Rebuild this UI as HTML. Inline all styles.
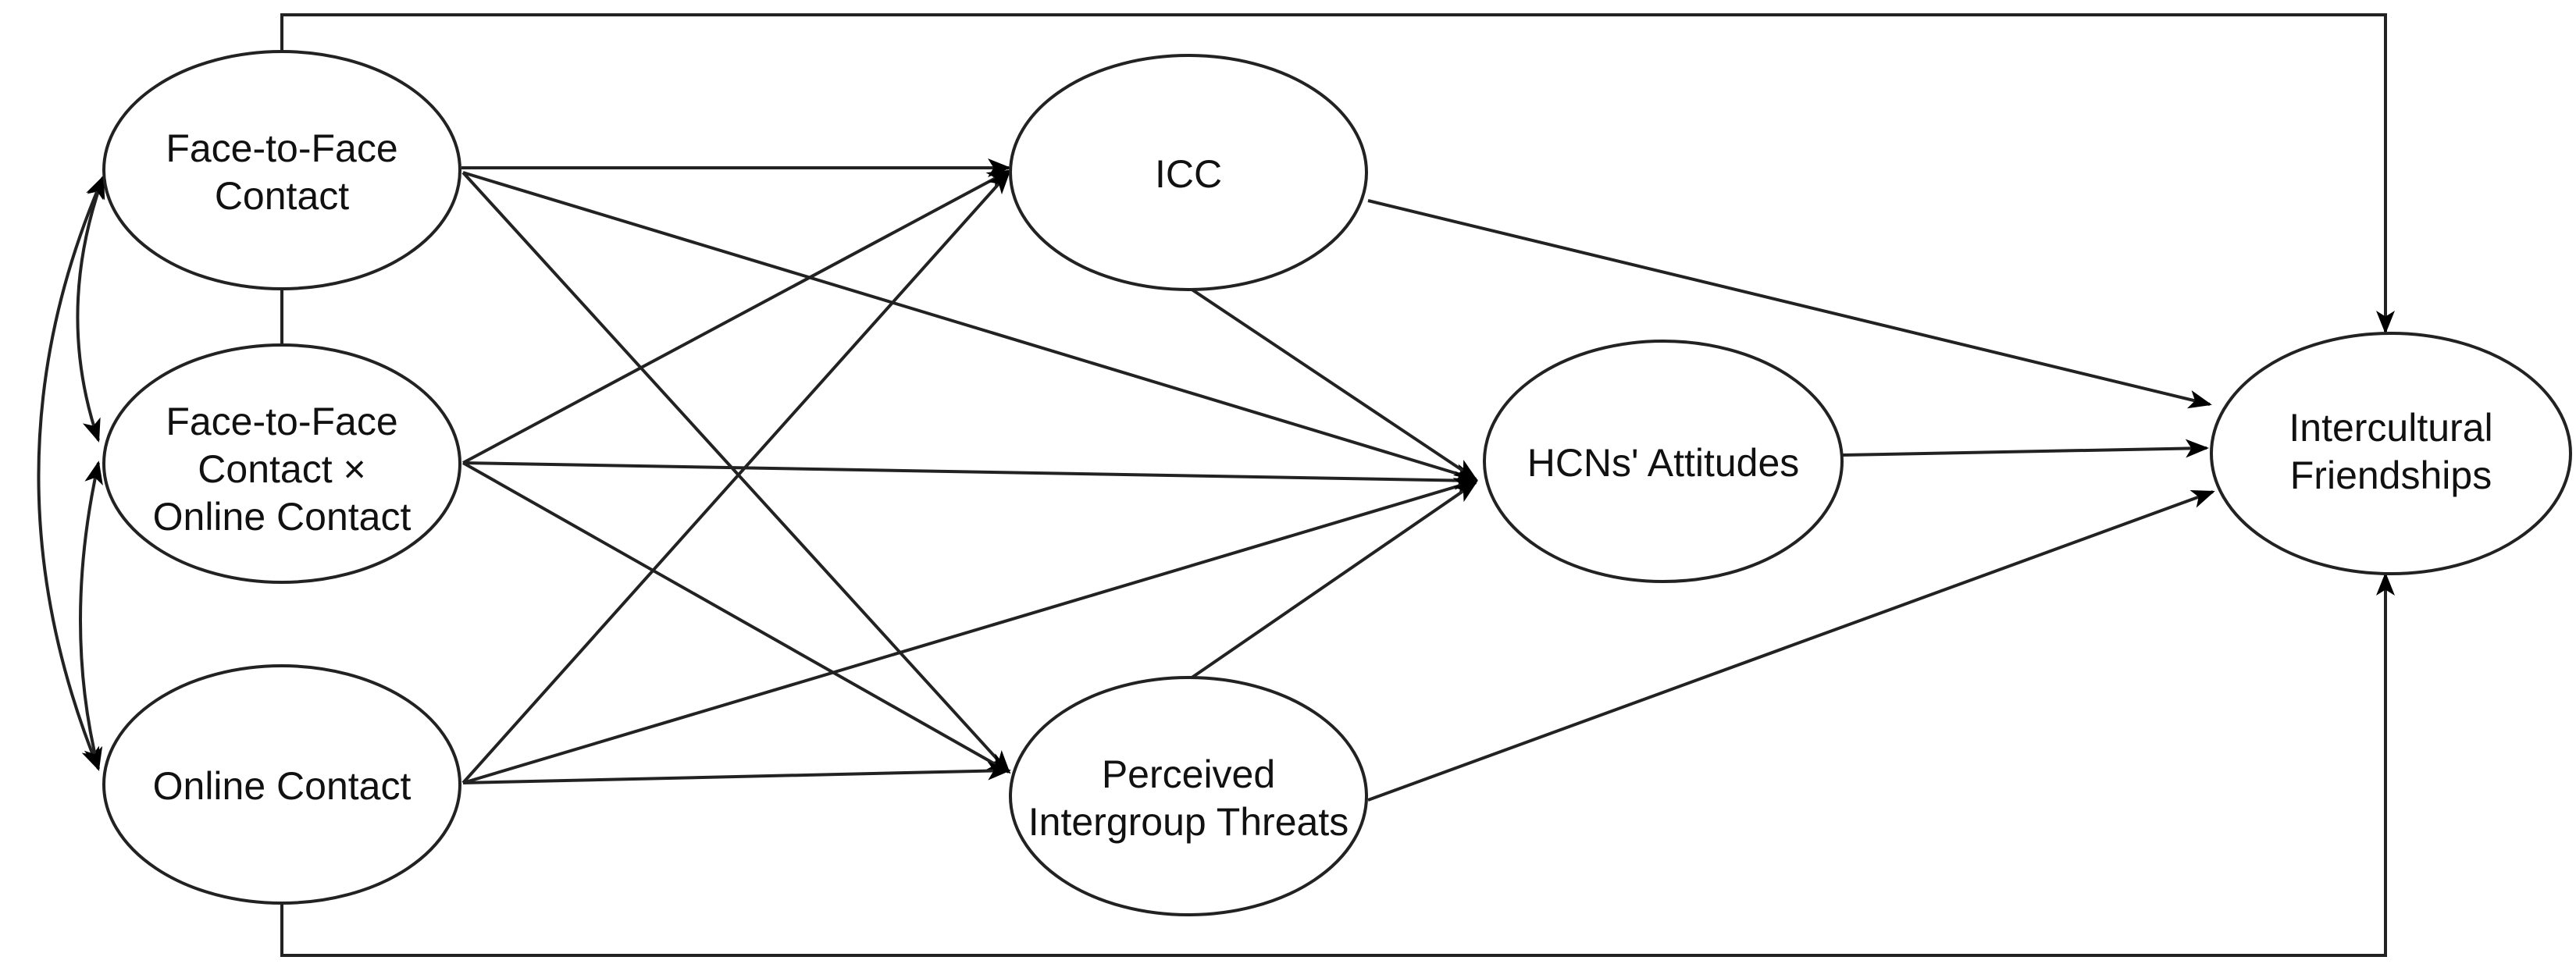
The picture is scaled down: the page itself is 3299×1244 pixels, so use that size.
<!DOCTYPE html>
<html><head><meta charset="utf-8"><style>html,body{margin:0;padding:0;background:#fff}svg{display:block}</style></head><body>
<svg width="3299" height="1244" viewBox="0 0 3299 1244" xmlns="http://www.w3.org/2000/svg" font-family="Liberation Sans, Arial, sans-serif" font-size="50" text-anchor="middle">
<defs><marker id="a" viewBox="0 0 20 20" refX="18" refY="10" markerWidth="30" markerHeight="30" markerUnits="userSpaceOnUse" orient="auto-start-reverse"><path d="M0,2 L20,10 L0,18 L5,10 Z" fill="#000"/></marker></defs>
<g fill="none" stroke="#222" stroke-width="4">
<path d="M361,66 V19 H3055 V425" marker-end="url(#a)"/>
<path d="M361,1157 V1224 H3055 V736" marker-end="url(#a)"/>
<path d="M361,370 V442"/>
<path d="M132,227 Q70,400 126,564" marker-start="url(#a)" marker-end="url(#a)"/>
<path d="M132,227 Q-30,600 126,985" marker-start="url(#a)" marker-end="url(#a)"/>
<path d="M126,593 Q80,800 126,985" marker-start="url(#a)" marker-end="url(#a)"/>
<path d="M591,215 L1292,215" marker-end="url(#a)"/>
<path d="M593,221 L1890,614" marker-end="url(#a)"/>
<path d="M593,221 L1292,989" marker-end="url(#a)"/>
<path d="M593,593 L1292,219" marker-end="url(#a)"/>
<path d="M593,593 L1890,616" marker-end="url(#a)"/>
<path d="M593,593 L1292,989" marker-end="url(#a)"/>
<path d="M593,1003 L1292,221" marker-end="url(#a)"/>
<path d="M593,1003 L1890,616" marker-end="url(#a)"/>
<path d="M593,1003 L1292,987" marker-end="url(#a)"/>
<path d="M1525,370 L1890,614" marker-end="url(#a)"/>
<path d="M1525,869 L1890,618" marker-end="url(#a)"/>
<path d="M1752,257 L2830,518" marker-end="url(#a)"/>
<path d="M2360,583 L2826,574" marker-end="url(#a)"/>
<path d="M1752,1025 L2834,630" marker-end="url(#a)"/>
</g>
<g fill="#fff" stroke="#222" stroke-width="4">
<ellipse cx="361" cy="218" rx="228" ry="152"/>
<ellipse cx="361" cy="594" rx="228" ry="152"/>
<ellipse cx="361" cy="1005" rx="228" ry="152"/>
<ellipse cx="1522" cy="221" rx="228" ry="150"/>
<ellipse cx="1522" cy="1020" rx="228" ry="152"/>
<ellipse cx="2130" cy="591" rx="229" ry="154"/>
<ellipse cx="3062" cy="581" rx="230" ry="154"/>
</g>
<g fill="#111">
<text x="361" y="207">Face-to-Face</text><text x="361" y="268">Contact</text>
<text x="361" y="557">Face-to-Face</text><text x="361" y="618">Contact ×</text><text x="361" y="679">Online Contact</text>
<text x="361" y="1024">Online Contact</text>
<text x="1522" y="240">ICC</text>
<text x="1522" y="1009">Perceived</text><text x="1522" y="1070">Intergroup Threats</text>
<text x="2130" y="610">HCNs' Attitudes</text>
<text x="3062" y="565">Intercultural</text><text x="3062" y="626">Friendships</text>
</g>
</svg>
</body></html>
